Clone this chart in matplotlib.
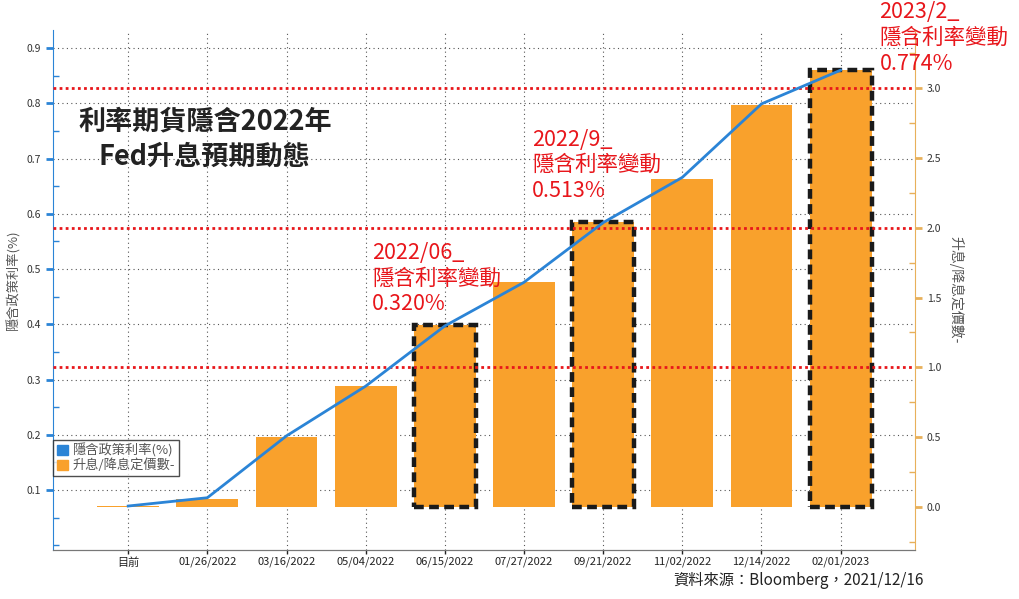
import numpy as np
import matplotlib.pyplot as plt
from matplotlib.ticker import MultipleLocator, FormatStrFormatter
from matplotlib.patches import Patch

plt.rcParams['font.family'] = ['Noto Sans CJK TC', 'DejaVu Sans']

# data
dates = ["目前", "01/26/2022", "03/16/2022", "05/04/2022", "06/15/2022",
         "07/27/2022", "09/21/2022", "11/02/2022", "12/14/2022", "02/01/2023"]
implied_rate = [0.071, 0.086, 0.198, 0.288, 0.397, 0.476, 0.584, 0.666, 0.799, 0.860]
hikes_priced = [0.008, 0.057, 0.50, 0.866, 1.30, 1.61, 2.04, 2.35, 2.88, 3.13]
boxed = [4, 6, 9]
red_levels = [1.0, 2.0, 3.0]
notes = ["2022/06_\n隱含利率變動\n0.320%", "2022/9_\n隱含利率變動\n0.513%",
         "2023/2_\n隱含利率變動\n0.774%"]

blue = "#2b84d6"
orange = "#f9a12c"

fig = plt.figure(figsize=(10.19, 5.99), dpi=100)
ax = fig.add_axes([0.052, 0.0818, 0.846, 0.868])
ax2 = ax.twinx()

x = np.arange(len(dates))

# grid behind everything (left axis)
ax.grid(True, which='major', color='#555555', linestyle=(0, (1, 3)), linewidth=0.8)
ax.set_axisbelow(True)

bars = ax2.bar(x, hikes_priced, width=0.78, color=orange, zorder=2)
for k in boxed:
    bars[k].set_edgecolor('#1a1a1a')
    bars[k].set_linestyle((0, (2.2, 1.2)))
    bars[k].set_linewidth(3.2)

for lv in red_levels:
    ax2.axhline(lv, color='#e8161b', linestyle=(0, (1, 1.2)), linewidth=2, zorder=3)

ax2.plot(x, implied_rate, color=blue, linewidth=2, transform=ax.transData, zorder=4)

ax.set_xlim(-0.95, 9.94)
ax.set_ylim(-0.0086, 0.9326)
ax2.set_ylim(-0.308, 3.415)

ax.set_xticks(x)
ax.set_xticklabels(dates, fontsize=8, color='#222222')
ax.set_yticks(np.arange(0.1, 0.95, 0.1))
ax.yaxis.set_major_formatter(FormatStrFormatter('%.1f'))
ax.yaxis.set_minor_locator(MultipleLocator(0.05))
ax2.set_yticks(np.arange(0, 3.01, 0.5))
ax2.yaxis.set_major_formatter(FormatStrFormatter('%.1f'))
ax2.yaxis.set_minor_locator(MultipleLocator(0.25))

ax.tick_params(axis='y', which='major', colors=blue, length=5, width=2, labelsize=7.5, labelcolor='#333333')
ax.tick_params(axis='y', which='minor', colors=blue, direction='in', length=4, width=1)
ax.tick_params(axis='x', length=3, width=1, color='#222222', pad=2)
ax2.tick_params(axis='y', which='major', colors='#e8b05a', length=5, width=2, labelsize=7.5, labelcolor='#333333')
ax2.tick_params(axis='y', which='minor', colors='#e8b05a', direction='in', length=4, width=1)

for a in (ax, ax2):
    a.spines['top'].set_visible(False)
    a.spines['bottom'].set_color('#777777')
ax.spines['left'].set_color(blue)
ax.spines['right'].set_visible(False)
ax2.spines['left'].set_visible(False)
ax2.spines['right'].set_color('#e8b05a')

ax.set_ylabel("隱含政策利率(%)", fontsize=9.5, color='#555555')
ax.yaxis.set_label_coords(-0.038, 0.52)
ax2.set_ylabel("升息/降息定價數-", fontsize=10, color='#555555', rotation=270, labelpad=16)

# legend
handles = [Patch(color=blue), Patch(color=orange)]
leg = ax.legend(handles, ["隱含政策利率(%)", "升息/降息定價數-"], loc='upper left',
                bbox_to_anchor=(0.0, 0.212), fontsize=9.5, frameon=True, fancybox=False,
                edgecolor='#222222', handlelength=0.8, handleheight=0.8, handletextpad=0.4,
                borderpad=0.3, labelspacing=0.05, labelcolor='#555555', borderaxespad=0)
leg.get_frame().set_linewidth(1)

# title
fig.text(0.201, 0.768, "利率期貨隱含2022年\nFed升息預期動態", ha='center', va='center',
         fontsize=19.5, fontweight='bold', color='#222222', linespacing=1.35)

# red notes
note_pos = [(3.08, 1.90), (5.10, 2.71), (9.49, 3.62)]
for (nx, ny), t in zip(note_pos, notes):
    ax2.text(nx, ny, t, ha='left', va='top', fontsize=15.5, color='#e8161b',
             linespacing=1.22, clip_on=False, zorder=5)

fig.text(0.906, 0.017, "資料來源：Bloomberg，2021/12/16", ha='right', va='bottom',
         fontsize=11, color='#222222')

fig.savefig("out.png", dpi=100)
